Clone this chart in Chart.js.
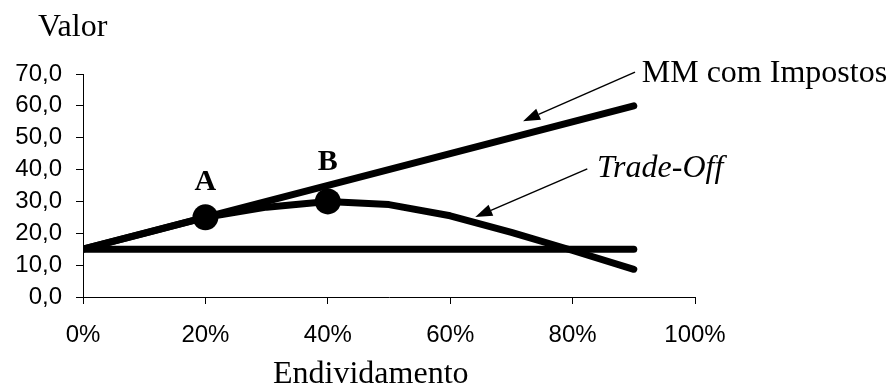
<!DOCTYPE html>
<html lang="pt">
<head>
<meta charset="UTF-8">
<title>Valor x Endividamento</title>
<script src="https://cdn.jsdelivr.net/npm/chart.js"></script>
<style>
  body { margin: 0; background: #fff; }
</style>
</head>
<body>
<canvas id="grafico" width="892" height="388"></canvas>
<script>
// endividamento (%) e valor da empresa em cada modelo
const endividamento = [0, 10, 20, 30, 40, 50, 60, 70, 80, 90];
const valorTradeOff = [15, 20, 25, 28.2, 30, 29, 25.5, 20.3, 14.6, 8.7];
const endividamentoRetas = [0, 90];
const valorMM = [15, 60];
const valorSemDivida = [15, 15];
const pontosX = [20, 40];
const pontosY = [25, 30];
const pontosNome = ['A', 'B'];

const serif = '"Liberation Serif", "Times New Roman", serif';
const sans = '"Liberation Sans", Arial, sans-serif';

const pares = (xs, ys) => xs.map((v, i) => ({ x: v, y: ys[i] }));

function seta(ctx, x1, y1, x2, y2) {
    const ang = Math.atan2(y2 - y1, x2 - x1);
    const comp = 17, larg = 6;
    const bx = x2 - comp * Math.cos(ang), by = y2 - comp * Math.sin(ang);
    ctx.lineWidth = 1.5;
    ctx.beginPath();
    ctx.moveTo(x1, y1);
    ctx.lineTo(bx, by);
    ctx.stroke();
    ctx.beginPath();
    ctx.moveTo(x2, y2);
    ctx.lineTo(bx + larg * Math.sin(ang), by - larg * Math.cos(ang));
    ctx.lineTo(bx - larg * Math.sin(ang), by + larg * Math.cos(ang));
    ctx.closePath();
    ctx.fill();
}

const anotacoes = {
    id: 'anotacoes',
    afterDraw(chart) {
        const { ctx, scales: { x, y } } = chart;
        const px = v => x.getPixelForValue(v);
        const py = v => y.getPixelForValue(v);
        ctx.save();
        ctx.fillStyle = '#000';
        ctx.strokeStyle = '#000';

        // letras dos pontos A e B
        ctx.font = 'bold 30px ' + serif;
        ctx.textAlign = 'center';
        ctx.textBaseline = 'alphabetic';
        ctx.fillText(pontosNome[0], px(pontosX[0]), py(33.5));
        ctx.fillText(pontosNome[1], px(pontosX[1]), py(40));

        // setas que indicam cada curva
        seta(ctx, px(90.2), py(70.6), px(71.9), py(55.2));
        seta(ctx, px(82.4), py(40.2), px(64.1), py(25.1));

        ctx.textAlign = 'left';
        ctx.font = '32px ' + serif;
        ctx.fillText('MM com Impostos', px(91.3), py(67.5));
        ctx.font = 'italic 32px ' + serif;
        ctx.fillText('Trade-Off', px(84), py(37.7));

        // títulos dos eixos
        ctx.font = '32px ' + serif;
        ctx.fillText('Valor', 38, 36);
        ctx.fillText('Endividamento', 273, 383);
        ctx.restore();
    }
};

const linha = {
    borderColor: '#000',
    borderWidth: 7,
    borderCapStyle: 'round',
    borderJoinStyle: 'round',
    pointRadius: 0,
    tension: 0,
    fill: false
};

new Chart(document.getElementById('grafico'), {
    type: 'line',
    data: {
        datasets: [
            {
                label: 'Pontos',
                data: pares(pontosX, pontosY),
                showLine: false,
                pointRadius: 13,
                pointBackgroundColor: '#000',
                pointBorderWidth: 0
            },
            { label: 'MM com Impostos', data: pares(endividamentoRetas, valorMM), ...linha },
            { label: 'Trade-Off', data: pares(endividamento, valorTradeOff), ...linha },
            { label: 'Sem dívida', data: pares(endividamentoRetas, valorSemDivida), ...linha }
        ]
    },
    options: {
        responsive: false,
        animation: false,
        layout: { padding: { top: 74, right: 197, left: 0, bottom: 0 } },
        plugins: {
            legend: { display: false },
            tooltip: { enabled: false }
        },
        scales: {
            x: {
                type: 'linear',
                min: 0,
                max: 100,
                afterFit: s => { s.height = 91; },
                border: { color: '#000', width: 1 },
                grid: { drawOnChartArea: false, tickLength: 7, color: '#000' },
                ticks: {
                    stepSize: 20,
                    padding: 17,
                    color: '#000',
                    font: { family: sans, size: 24 },
                    callback: v => v + '%'
                }
            },
            y: {
                min: 0,
                max: 70,
                afterFit: s => { s.width = 83; },
                border: { color: '#000', width: 1 },
                grid: { drawOnChartArea: false, tickLength: 7, color: '#000' },
                ticks: {
                    stepSize: 10,
                    padding: 14,
                    color: '#000',
                    font: { family: sans, size: 24 },
                    callback: v => v.toFixed(1).replace('.', ',')
                }
            }
        }
    },
    plugins: [anotacoes]
});
</script>
</body>
</html>
